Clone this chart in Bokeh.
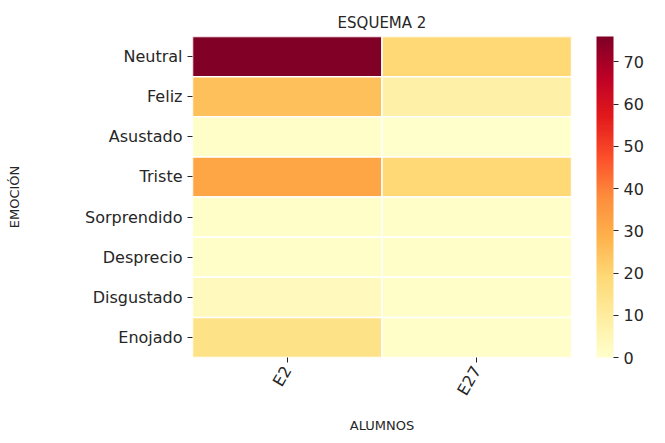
import math
from bokeh.plotting import figure
from bokeh.models import (ColumnDataSource, LinearColorMapper, ColorBar,
                          FixedTicker, FactorRange)
from bokeh.embed import file_html
from bokeh.resources import INLINE

# ---- data ----
emociones = ["Neutral", "Feliz", "Asustado", "Triste", "Sorprendido",
             "Desprecio", "Disgustado", "Enojado"]
alumnos = ["E2", "E27"]
valores_E2 = [76, 25, 1, 32, 1, 1, 3, 15]
valores_E27 = [19, 8, 0, 19, 1, 1, 1, 1]
cbar_ticks = [0, 10, 20, 30, 40, 50, 60, 70]

# ---- YlOrRd palette (matplotlib-like, 256 steps) ----
base = ["#ffffcc", "#ffeda0", "#fed976", "#feb24c", "#fd8d3c",
        "#fc4e2a", "#e31a1c", "#bd0026", "#800026"]
def h2r(h):
    return tuple(int(h[i:i + 2], 16) for i in (1, 3, 5))
rgb = [h2r(c) for c in base]
palette = []
for k in range(256):
    t = k / 255 * (len(rgb) - 1)
    i = min(int(t), len(rgb) - 2)
    f = t - i
    c = [round(rgb[i][j] + (rgb[i + 1][j] - rgb[i][j]) * f) for j in range(3)]
    palette.append("#%02x%02x%02x" % tuple(c))

xs, ys, vs = [], [], []
for col, serie in zip(alumnos, [valores_E2, valores_E27]):
    for emo, v in zip(emociones, serie):
        xs.append(col)
        ys.append(emo)
        vs.append(v)
src = ColumnDataSource(dict(x=xs, y=ys, v=vs))

mapper = LinearColorMapper(palette=palette, low=0, high=max(valores_E2 + valores_E27))

FONT = "DejaVu Sans"
p = figure(x_range=FactorRange(*alumnos), y_range=FactorRange(*reversed(emociones)),
           frame_width=379, frame_height=321, output_backend="svg",
           toolbar_location=None, title="ESQUEMA 2",
           min_border_left=192, min_border_right=10, min_border_top=36,
           min_border_bottom=5)
p.rect(x="x", y="y", width=1, height=1, source=src,
       fill_color={"field": "v", "transform": mapper},
       line_color="white", line_width=1.5)

p.title.align = "center"
p.title.text_font = FONT
p.title.text_font_size = "15px"
p.title.text_font_style = "normal"
p.title.text_color = "#262626"

p.grid.visible = False
p.outline_line_color = None
for ax in (p.xaxis, p.yaxis):
    ax.axis_line_color = None
    ax.major_tick_line_color = "#262626"
    ax.major_tick_out = 5
    ax.major_tick_in = 0
    ax.major_label_text_font = FONT
    ax.major_label_text_color = "#262626"
    ax.axis_label_text_font = FONT
    ax.axis_label_text_font_style = "normal"
    ax.axis_label_text_color = "#262626"
    ax.axis_label_text_font_size = "13px"
p.yaxis.major_label_text_font_size = "16px"
p.xaxis.major_label_text_font_size = "16px"
p.xaxis.major_label_orientation = math.pi / 3
p.xaxis.axis_label = "ALUMNOS"
p.yaxis.axis_label = "EMOCIÓN"
p.yaxis.axis_label_standoff = 60
p.xaxis.axis_label_standoff = 12
p.x_range.range_padding = 0
p.y_range.range_padding = 0

cb = ColorBar(color_mapper=mapper, ticker=FixedTicker(ticks=cbar_ticks),
              width=17, height=321, padding=0, margin=0,
              location=(25, 0),
              major_label_text_font=FONT, major_label_text_font_size="16px",
              major_label_text_color="#262626",
              major_tick_line_color="#262626", major_tick_out=5, major_tick_in=0,
              bar_line_color=None, border_line_color=None,
              background_fill_alpha=0)
p.add_layout(cb, "right")

open("out.html", "w").write(file_html(p, INLINE))
